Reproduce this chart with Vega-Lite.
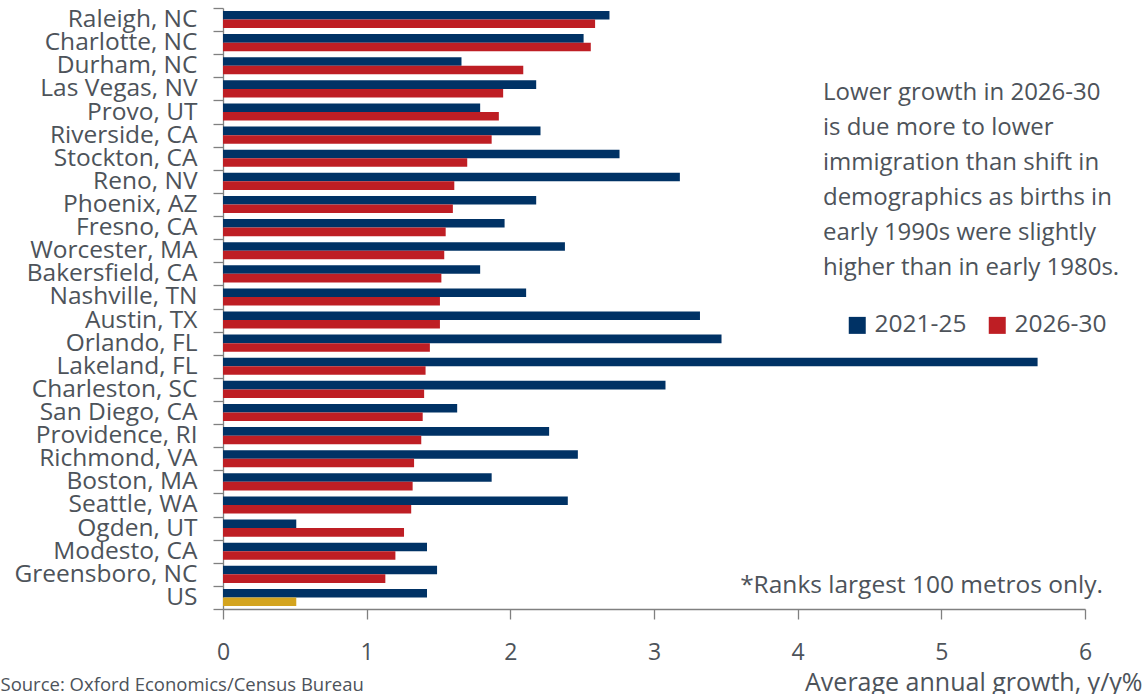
{
  "$schema": "https://vega.github.io/schema/vega-lite/v6.json",
  "width": 862,
  "height": 601,
  "autosize": {"type": "none"},
  "padding": {"left": 223, "top": 8, "right": 57, "bottom": 85},
  "background": "white",
  "config": {
    "font": "Open Sans",
    "view": {"stroke": null},
    "axis": {
      "labelColor": "#4d535a",
      "titleColor": "#4d535a",
      "titleFontWeight": "normal",
      "domainColor": "#808080",
      "tickColor": "#808080",
      "domainWidth": 1.3,
      "tickWidth": 1.3,
      "grid": false
    }
  },
  "layer": [
    {
      "data": {
        "values": [
          {"city": "Raleigh, NC", "period": "2021-25", "value": 2.69},
          {"city": "Raleigh, NC", "period": "2026-30", "value": 2.59},
          {"city": "Charlotte, NC", "period": "2021-25", "value": 2.51},
          {"city": "Charlotte, NC", "period": "2026-30", "value": 2.56},
          {"city": "Durham, NC", "period": "2021-25", "value": 1.66},
          {"city": "Durham, NC", "period": "2026-30", "value": 2.09},
          {"city": "Las Vegas, NV", "period": "2021-25", "value": 2.18},
          {"city": "Las Vegas, NV", "period": "2026-30", "value": 1.95},
          {"city": "Provo, UT", "period": "2021-25", "value": 1.79},
          {"city": "Provo, UT", "period": "2026-30", "value": 1.92},
          {"city": "Riverside, CA", "period": "2021-25", "value": 2.21},
          {"city": "Riverside, CA", "period": "2026-30", "value": 1.87},
          {"city": "Stockton, CA", "period": "2021-25", "value": 2.76},
          {"city": "Stockton, CA", "period": "2026-30", "value": 1.70},
          {"city": "Reno, NV", "period": "2021-25", "value": 3.18},
          {"city": "Reno, NV", "period": "2026-30", "value": 1.61},
          {"city": "Phoenix, AZ", "period": "2021-25", "value": 2.18},
          {"city": "Phoenix, AZ", "period": "2026-30", "value": 1.60},
          {"city": "Fresno, CA", "period": "2021-25", "value": 1.96},
          {"city": "Fresno, CA", "period": "2026-30", "value": 1.55},
          {"city": "Worcester, MA", "period": "2021-25", "value": 2.38},
          {"city": "Worcester, MA", "period": "2026-30", "value": 1.54},
          {"city": "Bakersfield, CA", "period": "2021-25", "value": 1.79},
          {"city": "Bakersfield, CA", "period": "2026-30", "value": 1.52},
          {"city": "Nashville, TN", "period": "2021-25", "value": 2.11},
          {"city": "Nashville, TN", "period": "2026-30", "value": 1.51},
          {"city": "Austin, TX", "period": "2021-25", "value": 3.32},
          {"city": "Austin, TX", "period": "2026-30", "value": 1.51},
          {"city": "Orlando, FL", "period": "2021-25", "value": 3.47},
          {"city": "Orlando, FL", "period": "2026-30", "value": 1.44},
          {"city": "Lakeland, FL", "period": "2021-25", "value": 5.67},
          {"city": "Lakeland, FL", "period": "2026-30", "value": 1.41},
          {"city": "Charleston, SC", "period": "2021-25", "value": 3.08},
          {"city": "Charleston, SC", "period": "2026-30", "value": 1.40},
          {"city": "San Diego, CA", "period": "2021-25", "value": 1.63},
          {"city": "San Diego, CA", "period": "2026-30", "value": 1.39},
          {"city": "Providence, RI", "period": "2021-25", "value": 2.27},
          {"city": "Providence, RI", "period": "2026-30", "value": 1.38},
          {"city": "Richmond, VA", "period": "2021-25", "value": 2.47},
          {"city": "Richmond, VA", "period": "2026-30", "value": 1.33},
          {"city": "Boston, MA", "period": "2021-25", "value": 1.87},
          {"city": "Boston, MA", "period": "2026-30", "value": 1.32},
          {"city": "Seattle, WA", "period": "2021-25", "value": 2.40},
          {"city": "Seattle, WA", "period": "2026-30", "value": 1.31},
          {"city": "Ogden, UT", "period": "2021-25", "value": 0.51},
          {"city": "Ogden, UT", "period": "2026-30", "value": 1.26},
          {"city": "Modesto, CA", "period": "2021-25", "value": 1.42},
          {"city": "Modesto, CA", "period": "2026-30", "value": 1.20},
          {"city": "Greensboro, NC", "period": "2021-25", "value": 1.49},
          {"city": "Greensboro, NC", "period": "2026-30", "value": 1.13},
          {"city": "US", "period": "2021-25", "value": 1.42},
          {"city": "US", "period": "2026-30", "value": 0.51}
        ]
      },
      "mark": {"type": "bar"},
      "encoding": {
        "y": {
          "field": "city",
          "type": "nominal",
          "sort": null,
          "scale": {"paddingInner": 0, "paddingOuter": 0},
          "axis": {
            "title": "Source: Oxford Economics/Census Bureau",
            "titleAngle": 0,
            "titleX": -223,
            "titleY": 682,
            "titleAlign": "left",
            "titleBaseline": "alphabetic",
            "titleFontSize": 18.5,
            "labelFontSize": 24.5,
            "labelLimit": 300,
            "labelPadding": 16,
            "tickBand": "extent",
            "tickSize": 10
          }
        },
        "yOffset": {
          "field": "period",
          "type": "nominal",
          "scale": {"paddingInner": 0, "paddingOuter": 0.35}
        },
        "x": {
          "field": "value",
          "type": "quantitative",
          "scale": {"domain": [0, 6], "nice": false},
          "axis": {
            "values": [0, 1, 2, 3, 4, 5, 6],
            "format": "d",
            "title": "Average annual growth, y/y%",
            "titleAnchor": "end",
            "titleAlign": "right",
            "titleX": 919,
            "titleY": 81,
            "titleBaseline": "alphabetic",
            "titleFontSize": 25,
            "labelFontSize": 23,
            "labelFlush": false,
            "labelPadding": 22,
            "tickSize": 10
          }
        },
        "color": {
          "condition": {
            "test": "datum.city === 'US' && datum.period === '2026-30'",
            "value": "#D4A41F"
          },
          "field": "period",
          "type": "nominal",
          "scale": {"domain": ["2021-25", "2026-30"], "range": ["#003265", "#BE1E24"]},
          "legend": {
            "title": null,
            "orient": "none",
            "direction": "horizontal",
            "legendX": 622,
            "legendY": 305,
            "symbolType": "square",
            "symbolSize": 289,
            "symbolStrokeWidth": 0,
            "symbolOpacity": 1,
            "labelFontSize": 24.5,
            "labelColor": "#4d535a",
            "labelOffset": 5,
            "columnPadding": 18
          }
        }
      }
    },
    {
      "data": {
        "values": [
          {"note": "Lower growth in 2026-30\nis due more to lower\nimmigration than shift in\ndemographics as births in\nearly 1990s were slightly\nhigher than in early 1980s."}
        ]
      },
      "mark": {
        "type": "text",
        "align": "left",
        "baseline": "alphabetic",
        "lineBreak": "\n",
        "lineHeight": 35,
        "fontSize": 24,
        "color": "#4d535a",
        "dy": 34
      },
      "encoding": {
        "x": {"datum": 4.176},
        "y": {"datum": "Durham, NC"},
        "text": {"field": "note"}
      }
    },
    {
      "data": {"values": [{"note": "*Ranks largest 100 metros only."}]},
      "mark": {
        "type": "text",
        "align": "right",
        "baseline": "alphabetic",
        "fontSize": 24.5,
        "color": "#4d535a",
        "dy": 19
      },
      "encoding": {
        "x": {"datum": 6.125},
        "y": {"datum": "Greensboro, NC"},
        "text": {"field": "note"}
      }
    }
  ]
}
